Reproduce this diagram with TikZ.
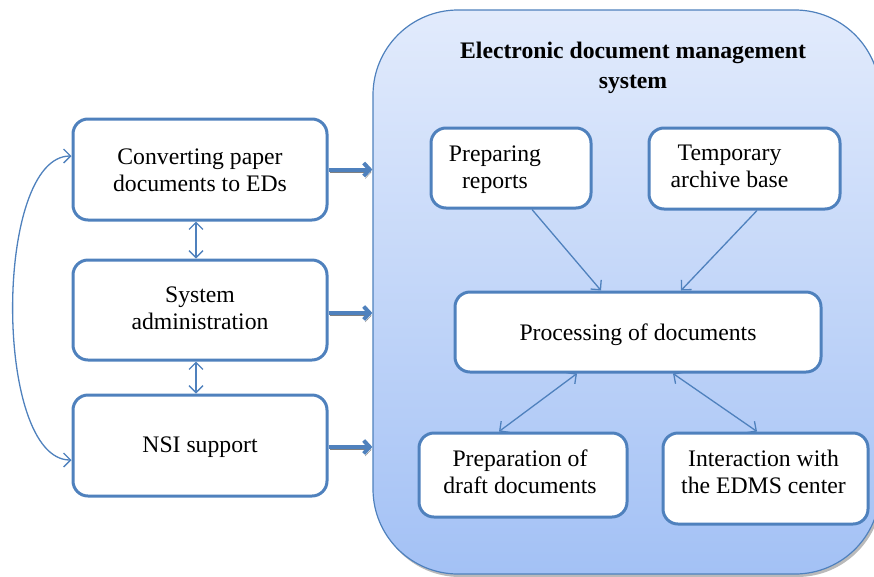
\documentclass[tikz,border=0pt]{standalone}
\usepackage{fontspec}
\setmainfont{Liberation Serif}
\usetikzlibrary{arrows.meta,shadows}
\definecolor{edgeblue}{HTML}{4F81BD}
\definecolor{paneltop}{HTML}{E2EBFC}
\definecolor{panelbot}{HTML}{A3C1F5}
\begin{document}
\begin{tikzpicture}[x=1pt,y=-1pt,
  txt/.style={font=\fontsize{23.7}{27}\selectfont, align=center, inner sep=0pt},
  box/.style={draw=edgeblue, line width=3pt, rounded corners=15pt, fill=white,
    minimum width=#1, inner sep=0pt},
  panel/.style={draw=edgeblue, line width=1.2pt, rounded corners=85pt,
    top color=paneltop, bottom color=panelbot,
    drop shadow={shadow xshift=2pt, shadow yshift=-3pt, fill=black!45, opacity=0.6}},
  thin/.style={draw=edgeblue, line width=1.3pt,
    {Straight Barb[length=7pt,width=14pt]}-{Straight Barb[length=7pt,width=14pt]}},
  feed/.style={draw=edgeblue, line width=4pt,
    -{Straight Barb[length=6pt,width=13pt,line width=4pt]},
    preaction={draw=black!50, transform canvas={shift={(1.5pt,-2.5pt)}}}},
]
\useasboundingbox (0,0) rectangle (874,576);

% system panel
\node[panel, minimum width=507pt, minimum height=564pt] (eds) at (626.5,292) {};
\node[txt, font=\fontsize{23.7}{30}\selectfont\bfseries] (title) at (633,68)
  {Electronic document management\\system};

% left column
\node[box=254pt, minimum height=101pt] (conv) at (200,169.5) {};
\node[txt] at ([yshift=-1pt]conv.center) {Converting paper\\documents to EDs};
\node[box=254pt, minimum height=100pt] (sys) at (200,310) {};
\node[txt] at ([yshift=2pt]sys.center) {System\\administration};
\node[box=254pt, minimum height=101pt] (nsi) at (200,445.5) {};
\node[txt] at ([yshift=-2pt]nsi.center) {NSI support};

% panel contents
\node[box=160pt, minimum height=80pt] (rep) at (511,168) {};
\node[txt] at ([xshift=-16pt,yshift=-2pt]rep.center) {Preparing\\reports};
\node[box=191pt, minimum height=81pt] (tmp) at (744.5,168.5) {};
\node[txt] at ([xshift=-15pt,yshift=2pt]tmp.center) {Temporary\\archive base};
\node[box=366pt, minimum height=80pt] (proc) at (638,332) {};
\node[txt] at ([yshift=-3pt]proc.center) {Processing of documents};
\node[box=208pt, minimum height=84pt] (draft) at (523,475) {};
\node[txt] at ([xshift=-3pt,yshift=3pt]draft.center) {Preparation of\\draft documents};
\node[box=205pt, minimum height=91pt] (inter) at (765.5,478.5) {};
\node[txt] at ([xshift=-2pt,yshift=7pt]inter.center) {Interaction with\\the EDMS center};

% links between the left boxes
\draw[thin] ([xshift=-4pt]conv.south) -- ([xshift=-4pt]sys.north);
\draw[thin] ([xshift=-4pt]sys.south) -- ([xshift=-4pt]nsi.north);
\draw[thin] ([yshift=13.5pt]conv.west) .. controls +(-78,0) and +(-78,0) .. ([yshift=-14.5pt]nsi.west);

% feeds into the system
\draw[feed] (conv.east) -- (conv.east -| eds.west);
\draw[feed] ([yshift=-3pt]sys.east) -- ([yshift=-3pt]sys.east -| eds.west);
\draw[feed] ([yshift=-1.5pt]nsi.east) -- ([yshift=-1.5pt]nsi.east -| eds.west);

% flows inside the system
\draw[thin, -{Straight Barb[length=7pt,width=14pt]}]
  ([xshift=21pt]rep.south) -- ([xshift=-37pt]proc.north);
\draw[thin, -{Straight Barb[length=7pt,width=14pt]}]
  ([xshift=12.5pt]tmp.south) -- ([xshift=43pt]proc.north);
\draw[thin] ([xshift=-61pt]proc.south) -- ([xshift=-24pt]draft.north);
\draw[thin] ([xshift=35pt]proc.south) -- ([xshift=-8.5pt]inter.north);
\end{tikzpicture}
\end{document}
